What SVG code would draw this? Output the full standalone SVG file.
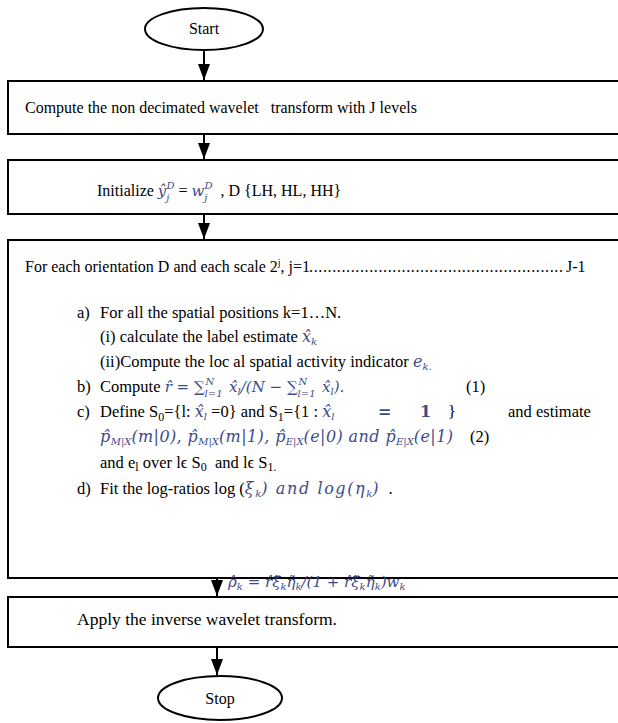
<svg xmlns="http://www.w3.org/2000/svg" width="618" height="723" viewBox="0 0 618 723">
<style>
.t{font-family:"Liberation Serif","Times New Roman",serif;font-size:16px;fill:#000;white-space:pre}
.b{font-size:16.5px}
.m{font-family:"DejaVu Serif","Liberation Serif",serif;font-style:italic;font-size:16px;fill:#3d4a8a}
.m15{font-size:15px}
.s{font-size:10px}
.u{font-size:12px}
.box{fill:#fff;stroke:#000;stroke-width:2}
.ln{stroke:#000;stroke-width:2;fill:none}
</style>
<defs>
<marker id="ah" markerWidth="16" markerHeight="12" refX="16" refY="6" orient="auto" markerUnits="userSpaceOnUse" viewBox="0 0 16 12">
<path d="M0,0 L16,6 L0,12 Z" fill="#000"/>
</marker>
</defs>
<g id="start">
<ellipse cx="204" cy="29" rx="59" ry="21" class="box"/>
<text class="t" x="204" y="34" text-anchor="middle">Start</text>
</g>
<g id="step1">
<rect x="8" y="81" width="620" height="53" class="box"/>
<text class="t" x="25" y="113" xml:space="preserve">Compute the non decimated wavelet   transform with J levels</text>
</g>
<g id="step2">
<rect x="8" y="160" width="620" height="54" class="box"/>
<text class="t" x="97" y="196">Initialize <tspan class="m m15">ŷ</tspan><tspan class="m s" dy="5">j</tspan><tspan class="m s" dx="-3" dy="-12">D</tspan><tspan dy="7"> = </tspan><tspan class="m m15">w</tspan><tspan class="m s" dy="5">j</tspan><tspan class="m s" dx="-3" dy="-12">D</tspan><tspan dy="7" xml:space="preserve">  , D {LH, HL, HH}</tspan></text>
</g>
<g id="step3">
<rect x="8" y="240" width="620" height="338" class="box"/>
<text class="t" x="25" y="272">For each orientation D and each scale 2<tspan class="s" dy="-6">j</tspan><tspan dy="6">, j=1</tspan></text>
<text class="t" x="309" y="272" textLength="254" lengthAdjust="spacing">.......................................................</text>
<text class="t" x="566" y="272">J-1</text>
<text class="t b" x="77" y="318">a)</text>
<text class="t b" x="100" y="318">For all the spatial positions k=1…N.</text>
<text class="t b" x="100" y="342">(i) calculate the label estimate <tspan class="m">x̂</tspan><tspan class="m s" dy="3">k</tspan></text>
<text class="t b" x="100" y="367">(ii)Compute the loc al spatial activity indicator <tspan class="m">e</tspan><tspan class="m s" dy="3">k</tspan><tspan class="m s">.</tspan></text>
<text class="t b" x="77" y="392">b)</text>
<text class="t b" x="100" y="392">Compute <tspan class="m m15">r̂ = ∑</tspan><tspan class="m s" dy="5">l=1</tspan><tspan class="m s" dx="-17" dy="-12">N</tspan><tspan class="m m15" dx="10" dy="7"> x̂</tspan><tspan class="m s" dy="3">l</tspan><tspan class="m m15" dy="-3">/(N − ∑</tspan><tspan class="m s" dy="5">l=1</tspan><tspan class="m s" dx="-17" dy="-12">N</tspan><tspan class="m m15" dx="10" dy="7"> x̂</tspan><tspan class="m s" dy="3">l</tspan><tspan class="m m15" dy="-3">).</tspan></text>
<text class="t b" x="466" y="392">(1)</text>
<text class="t b" x="77" y="417">c)</text>
<text class="t b" x="100" y="417">Define S<tspan class="u" dy="4">0</tspan><tspan dy="-4">={l: </tspan><tspan class="m">x̂</tspan><tspan class="m s" dy="3">l</tspan><tspan dy="-3"> =0} and S</tspan><tspan class="u" dy="4">1</tspan><tspan dy="-4">={1 : </tspan><tspan class="m">x̂</tspan><tspan class="m s" dy="3">l</tspan><tspan class="m" style="font-style:normal;font-weight:bold" x="378" dy="-3">=</tspan><tspan class="m" style="font-style:normal;font-weight:bold" x="420">1</tspan><tspan x="448">}</tspan><tspan x="508">and estimate</tspan></text>
<text class="t b" x="100" y="442"><tspan class="m" letter-spacing="0.4">p̂</tspan><tspan class="m s" dy="3">M|X</tspan><tspan class="m" letter-spacing="0.4" dy="-3">(m|0), p̂</tspan><tspan class="m s" dy="3">M|X</tspan><tspan class="m" letter-spacing="0.4" dy="-3">(m|1), p̂</tspan><tspan class="m s" dy="3">E|X</tspan><tspan class="m" letter-spacing="0.4" dy="-3">(e|0) and p̂</tspan><tspan class="m s" dy="3">E|X</tspan><tspan class="m" letter-spacing="0.4" dy="-3">(e|1)</tspan><tspan x="470">(2)</tspan></text>
<text class="t b" x="100" y="468" xml:space="preserve">and e<tspan class="u" dy="3">l</tspan><tspan dy="-3"> over lϵ S</tspan><tspan class="u" dy="3">0</tspan><tspan dy="-3">  and lϵ S</tspan><tspan class="u" dy="3">1.</tspan></text>
<text class="t b" x="77" y="494">d)</text>
<text class="t b" x="100" y="494">Fit the log-ratios log (<tspan class="m" letter-spacing="1.6">ξ</tspan><tspan class="m s" dy="3">k</tspan><tspan class="m" letter-spacing="1.6" dy="-3">) and log(η</tspan><tspan class="m s" dy="3">k</tspan><tspan class="m" letter-spacing="1.6" dy="-3">)</tspan><tspan xml:space="preserve">  .</tspan></text>
</g>
<g id="estimate">
<text class="t" x="228" y="587"><tspan class="m m15">ρ̂</tspan><tspan class="m s" dy="3">k</tspan><tspan class="m m15" dy="-3"> = r̂ξ̃</tspan><tspan class="m s" dy="3">k</tspan><tspan class="m m15" dy="-3">η̃</tspan><tspan class="m s" dy="3">k</tspan><tspan class="m m15" dy="-3">/(1 + r̂ξ̃</tspan><tspan class="m s" dy="3">k</tspan><tspan class="m m15" dy="-3">η̃</tspan><tspan class="m s" dy="3">k</tspan><tspan class="m m15" dy="-3">)w</tspan><tspan class="m s" dy="3">k</tspan></text>
</g>
<g id="step4">
<rect x="8" y="597" width="620" height="50" class="box"/>
<text class="t" x="77" y="625" style="font-size:17.5px">Apply the inverse wavelet transform.</text>
</g>
<g id="stop">
<ellipse cx="220" cy="698" rx="62" ry="22" class="box"/>
<text class="t" x="220" y="704" text-anchor="middle">Stop</text>
</g>
<g id="connectors">
<line x1="204" y1="50" x2="204" y2="80" class="ln" marker-end="url(#ah)"/>
<line x1="204" y1="134" x2="204" y2="159" class="ln" marker-end="url(#ah)"/>
<line x1="204" y1="214" x2="204" y2="239" class="ln" marker-end="url(#ah)"/>
<line x1="217" y1="578" x2="217" y2="596" class="ln" marker-end="url(#ah)"/>
<line x1="217" y1="647" x2="217" y2="675" class="ln" marker-end="url(#ah)"/>
</g>
</svg>
